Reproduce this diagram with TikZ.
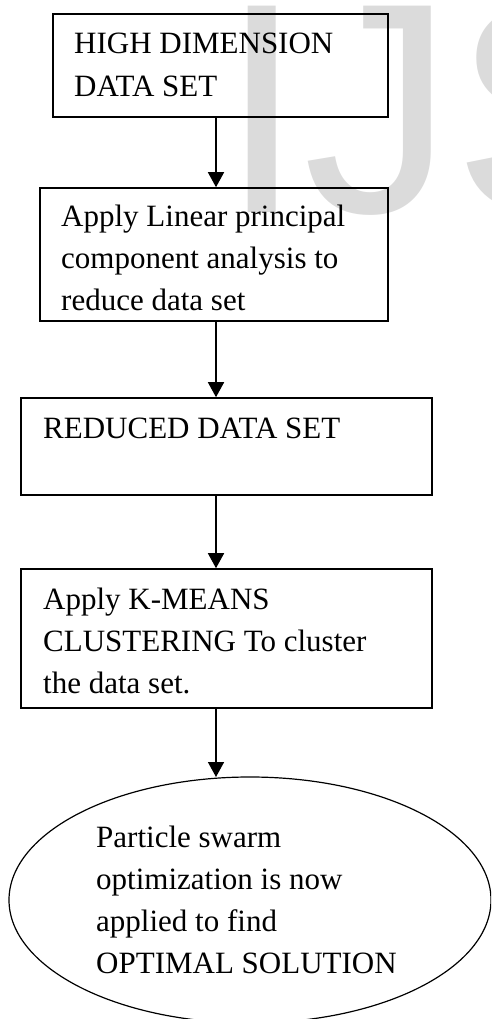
\documentclass[tikz,border=0pt]{standalone}
\usepackage{fontspec}
\setmainfont{Liberation Serif}
\newfontfamily\wmfont{Liberation Sans}
\usetikzlibrary{shapes.geometric,arrows.meta}
\begin{document}
\begin{tikzpicture}[x=1pt,y=-1pt,
  box/.style={draw,line width=1.6pt,inner sep=0pt},
  txt/.style={anchor=base west,align=left,inner sep=0pt,font=\fontsize{31}{42}\selectfont},
  arr/.style={line width=1.6pt,-{Triangle[length=15pt,width=16pt]}},
  wmark/.style={anchor=base west,inner sep=0pt,text=gray!28,font=\wmfont\fontsize{300}{300}\selectfont}
]
\useasboundingbox (0,0) rectangle (491,1019);
\clip (0,0) rectangle (491,1019);
\node[wmark] (wm) at (220,212) {IJS};

\node[box,minimum width=335pt,minimum height=103pt] (b1) at (220.5,65.5) {};
\node[box,minimum width=348pt,minimum height=133pt] (b2) at (214,254.5) {};
\node[box,minimum width=411pt,minimum height=97pt] (b3) at (226.5,446.5) {};
\node[box,minimum width=411pt,minimum height=139pt] (b4) at (226.5,638.5) {};
\node[draw,ellipse,line width=1.2pt,minimum width=482pt,minimum height=246pt,inner sep=0pt] (e) at (250,900) {};

\node[txt,font=\fontsize{31}{43}\selectfont] (t1) at (74,97) {HIGH DIMENSION\\DATA SET};
\node[txt] (t2) at (61,310) {Apply Linear principal\\component analysis to\\reduce data set};
\node[txt] (t3) at (43,438) {REDUCED DATA SET};
\node[txt] (t4) at (43,693) {Apply K-MEANS\\CLUSTERING To cluster\\the data set.};
\node[txt] (t5) at (96,973) {Particle swarm\\optimization is now\\applied to find\\OPTIMAL SOLUTION};

\coordinate (ax) at (216,0);
\draw[arr] (ax |- b1.south) -- (ax |- b2.north);
\draw[arr] (ax |- b2.south) -- (ax |- b3.north);
\draw[arr] (ax |- b3.south) -- (ax |- b4.north);
\draw[arr] (ax |- b4.south) -- (216,777);
\end{tikzpicture}
\end{document}
